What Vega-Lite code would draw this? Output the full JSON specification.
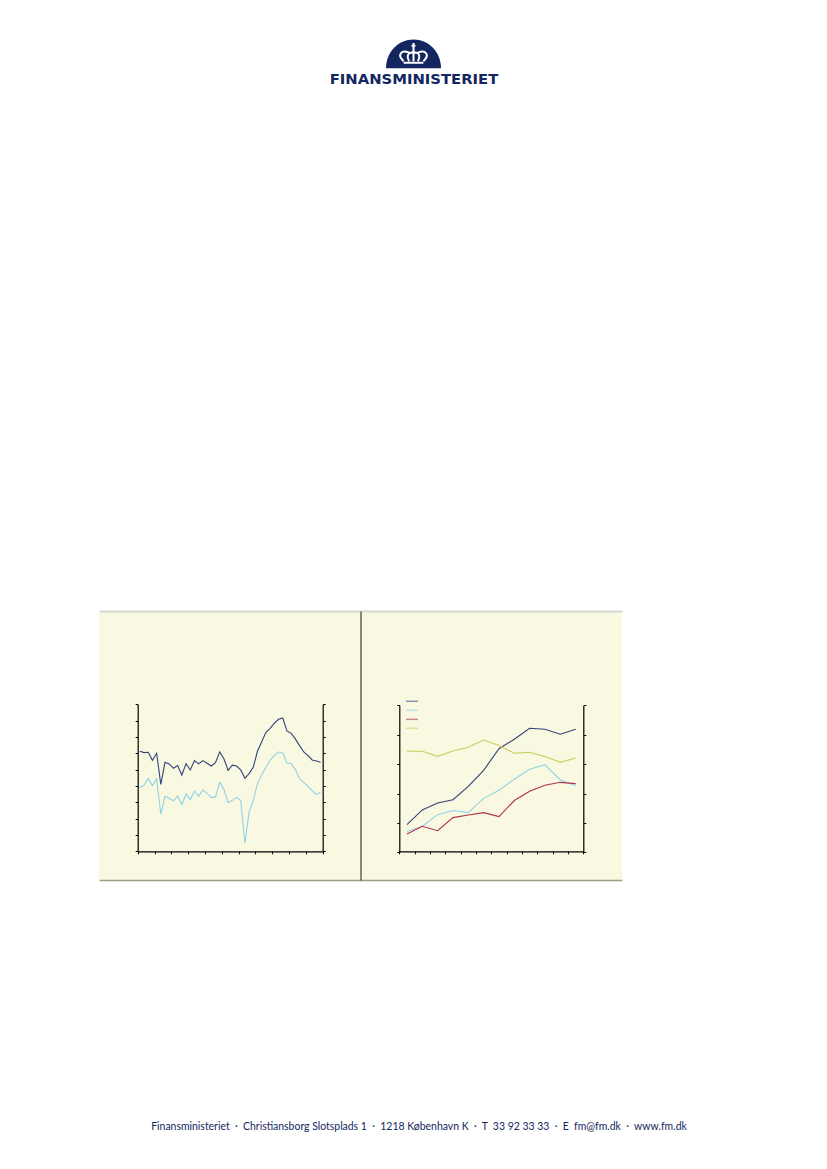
{
  "$schema": "https://vega.github.io/schema/vega-lite/v6.json",
  "width": 827,
  "height": 1169,
  "autosize": {"type": "fit", "contains": "padding"},
  "padding": 0,
  "background": "#ffffff",
  "config": {
    "view": {"stroke": null},
    "axis": {"labels": false, "grid": false, "title": null, "tickSize": 2.5, "tickColor": "#000000", "domainColor": "#000000", "tickWidth": 1, "domainWidth": 1.2}
  },
  "datasets": {
    "kvartal": [
      {"t": 2000.125, "a": 61.2, "b": 39.0}, {"t": 2000.375, "a": 60.4, "b": 40.4}, {"t": 2000.625, "a": 60.6, "b": 44.5}, {"t": 2000.875, "a": 55.7, "b": 40.2},
      {"t": 2001.125, "a": 60.0, "b": 44.3}, {"t": 2001.375, "a": 41.0, "b": 22.7}, {"t": 2001.625, "a": 54.5, "b": 33.7}, {"t": 2001.875, "a": 53.5, "b": 32.5},
      {"t": 2002.125, "a": 50.8, "b": 30.8}, {"t": 2002.375, "a": 52.5, "b": 33.9}, {"t": 2002.625, "a": 46.7, "b": 28.6}, {"t": 2002.875, "a": 53.7, "b": 35.1},
      {"t": 2003.125, "a": 49.8, "b": 31.6}, {"t": 2003.375, "a": 55.5, "b": 36.9}, {"t": 2003.625, "a": 53.5, "b": 33.7}, {"t": 2003.875, "a": 55.5, "b": 37.6},
      {"t": 2004.125, "a": 53.9, "b": 35.5}, {"t": 2004.375, "a": 52.2, "b": 32.9}, {"t": 2004.625, "a": 54.3, "b": 33.3}, {"t": 2004.875, "a": 60.8, "b": 42.2},
      {"t": 2005.125, "a": 56.7, "b": 38.0}, {"t": 2005.375, "a": 49.6, "b": 29.8}, {"t": 2005.625, "a": 52.7, "b": 31.2}, {"t": 2005.875, "a": 52.2, "b": 32.9},
      {"t": 2006.125, "a": 49.8, "b": 31.2}, {"t": 2006.375, "a": 44.7, "b": 4.9}, {"t": 2006.625, "a": 47.6, "b": 24.3}, {"t": 2006.875, "a": 51.6, "b": 31.4},
      {"t": 2007.125, "a": 61.4, "b": 41.6}, {"t": 2007.375, "a": 67.1, "b": 46.9}, {"t": 2007.625, "a": 72.9, "b": 51.4}, {"t": 2007.875, "a": 75.3, "b": 55.9},
      {"t": 2008.125, "a": 78.4, "b": 58.6}, {"t": 2008.375, "a": 80.8, "b": 60.8}, {"t": 2008.625, "a": 81.6, "b": 60.2}, {"t": 2008.875, "a": 73.7, "b": 54.1},
      {"t": 2009.125, "a": 72.2, "b": 53.7}, {"t": 2009.375, "a": 68.8, "b": 50.0}, {"t": 2009.625, "a": 64.7, "b": 44.3}, {"t": 2009.875, "a": 60.8, "b": 42.2},
      {"t": 2010.125, "a": 58.6, "b": 39.8}, {"t": 2010.375, "a": 55.9, "b": 37.1}, {"t": 2010.625, "a": 55.3, "b": 34.7}, {"t": 2010.875, "a": 54.5, "b": 36.3}
    ],
    "aar": [
      {"t": 1997.5, "serie": "Serie 1", "v": 18.8}, {"t": 1998.5, "serie": "Serie 1", "v": 28.8}, {"t": 1999.5, "serie": "Serie 1", "v": 33.6}, {"t": 2000.5, "serie": "Serie 1", "v": 35.8},
      {"t": 2001.5, "serie": "Serie 1", "v": 44.9}, {"t": 2002.5, "serie": "Serie 1", "v": 55.8}, {"t": 2003.5, "serie": "Serie 1", "v": 70.5}, {"t": 2004.5, "serie": "Serie 1", "v": 76.9},
      {"t": 2005.5, "serie": "Serie 1", "v": 84.4}, {"t": 2006.5, "serie": "Serie 1", "v": 83.7}, {"t": 2007.5, "serie": "Serie 1", "v": 80.3}, {"t": 2008.5, "serie": "Serie 1", "v": 83.7},
      {"t": 1997.5, "serie": "Serie 2", "v": 14.1}, {"t": 1998.5, "serie": "Serie 2", "v": 17.7}, {"t": 1999.5, "serie": "Serie 2", "v": 25.6}, {"t": 2000.5, "serie": "Serie 2", "v": 28.4},
      {"t": 2001.5, "serie": "Serie 2", "v": 27.0}, {"t": 2002.5, "serie": "Serie 2", "v": 36.7}, {"t": 2003.5, "serie": "Serie 2", "v": 42.2}, {"t": 2004.5, "serie": "Serie 2", "v": 49.7},
      {"t": 2005.5, "serie": "Serie 2", "v": 56.5}, {"t": 2006.5, "serie": "Serie 2", "v": 59.6}, {"t": 2007.5, "serie": "Serie 2", "v": 49.2}, {"t": 2008.5, "serie": "Serie 2", "v": 45.4},
      {"t": 1997.5, "serie": "Serie 3", "v": 12.5}, {"t": 1998.5, "serie": "Serie 3", "v": 17.7}, {"t": 1999.5, "serie": "Serie 3", "v": 14.7}, {"t": 2000.5, "serie": "Serie 3", "v": 23.6},
      {"t": 2001.5, "serie": "Serie 3", "v": 25.4}, {"t": 2002.5, "serie": "Serie 3", "v": 27.0}, {"t": 2003.5, "serie": "Serie 3", "v": 24.3}, {"t": 2004.5, "serie": "Serie 3", "v": 35.2},
      {"t": 2005.5, "serie": "Serie 3", "v": 41.5}, {"t": 2006.5, "serie": "Serie 3", "v": 45.6}, {"t": 2007.5, "serie": "Serie 3", "v": 47.6}, {"t": 2008.5, "serie": "Serie 3", "v": 46.7},
      {"t": 1997.5, "serie": "Serie 4", "v": 68.7}, {"t": 1998.5, "serie": "Serie 4", "v": 68.7}, {"t": 1999.5, "serie": "Serie 4", "v": 65.3}, {"t": 2000.5, "serie": "Serie 4", "v": 68.9},
      {"t": 2001.5, "serie": "Serie 4", "v": 71.4}, {"t": 2002.5, "serie": "Serie 4", "v": 76.4}, {"t": 2003.5, "serie": "Serie 4", "v": 72.6}, {"t": 2004.5, "serie": "Serie 4", "v": 67.4},
      {"t": 2005.5, "serie": "Serie 4", "v": 68.0}, {"t": 2006.5, "serie": "Serie 4", "v": 65.1}, {"t": 2007.5, "serie": "Serie 4", "v": 61.2}, {"t": 2008.5, "serie": "Serie 4", "v": 64.2}
    ]
  },
  "layer": [
    {
      "data": {"values": [{"panel": "venstre", "r": "a"}, {"panel": "hoejre", "r": "a"}]},
      "mark": {"type": "rect", "fill": "#f9f8e1"},
      "encoding": {
        "x": {
          "field": "panel",
          "type": "nominal",
          "sort": ["venstre", "hoejre"],
          "scale": {"range": [99, 622], "paddingInner": 0, "paddingOuter": 0},
          "axis": {"zindex": 1, "orient": "top", "offset": -611, "ticks": false, "domainColor": "#d8d8d0", "domainWidth": 2}
        },
        "y": {
          "field": "r",
          "type": "nominal",
          "scale": {"range": [611, 880], "paddingInner": 0, "paddingOuter": 0},
          "axis": {"zindex": 1, "orient": "left", "offset": -360.5, "ticks": false, "domainColor": "#4a4a44", "domainWidth": 1.3}
        }
      }
    },
    {
      "data": {"values": [{"panel": "venstre"}, {"panel": "hoejre"}]},
      "mark": {"type": "rule", "opacity": 0},
      "encoding": {
        "x": {
          "field": "panel",
          "type": "nominal",
          "scale": {"range": [99, 622]},
          "axis": {"zindex": 1, "orient": "bottom", "offset": -289, "ticks": false, "domainColor": "#a09e88", "domainWidth": 1.5}
        }
      }
    },
    {
      "data": {"name": "kvartal"},
      "encoding": {
        "x": {
          "field": "t",
          "type": "quantitative",
          "scale": {"domain": [2000, 2011], "range": [137.7, 322.7], "nice": false, "zero": false},
          "axis": {"zindex": 1, "orient": "bottom", "offset": -317.7, "values": [2000, 2001, 2002, 2003, 2004, 2005, 2006, 2007, 2008, 2009, 2010, 2011]}
        }
      },
      "layer": [
        {
          "mark": {"type": "line", "stroke": "#8fd3e6", "strokeWidth": 1.1},
          "encoding": {
            "y": {
              "field": "b",
              "type": "quantitative",
              "scale": {"domain": [0, 90], "range": [851.3, 704.3], "nice": false},
              "axis": {"zindex": 1, "orient": "left", "offset": -137.7, "values": [0, 10, 20, 30, 40, 50, 60, 70, 80, 90]}
            }
          }
        },
        {
          "mark": {"type": "line", "stroke": "#33437c", "strokeWidth": 1.1},
          "encoding": {
            "y": {
              "field": "a",
              "type": "quantitative",
              "scale": {"domain": [0, 90], "range": [851.3, 704.3], "nice": false},
              "axis": {"zindex": 1, "orient": "left", "offset": -137.7, "values": [0, 10, 20, 30, 40, 50, 60, 70, 80, 90]}
            }
          }
        }
      ]
    },
    {
      "data": {"values": [{"s": 0}, {"s": 90}]},
      "mark": {"type": "rule", "opacity": 0},
      "encoding": {
        "y": {
          "field": "s",
          "type": "quantitative",
          "scale": {"domain": [0, 90], "range": [851.3, 704.3], "nice": false},
          "axis": {"zindex": 1, "orient": "right", "offset": -504.3, "values": [0, 10, 20, 30, 40, 50, 60, 70, 80, 90]}
        }
      }
    },
    {
      "data": {"name": "aar"},
      "mark": {"type": "line", "strokeWidth": 1.1},
      "encoding": {
        "x": {
          "field": "t",
          "type": "quantitative",
          "scale": {"domain": [1997, 2009], "range": [399.3, 583.3], "nice": false, "zero": false},
          "axis": {"zindex": 1, "orient": "bottom", "offset": -317.7, "values": [1997, 1998, 1999, 2000, 2001, 2002, 2003, 2004, 2005, 2006, 2007, 2008, 2009]}
        },
        "y": {
          "field": "v",
          "type": "quantitative",
          "scale": {"domain": [0, 100], "range": [852.3, 705.3], "nice": false},
          "axis": {"zindex": 1, "orient": "left", "offset": -399.3, "values": [0, 20, 40, 60, 80, 100]}
        },
        "color": {
          "field": "serie",
          "type": "nominal",
          "scale": {"domain": ["Serie 1", "Serie 2", "Serie 3", "Serie 4"], "range": ["#33437c", "#8fd3e6", "#b0304f", "#c9cf5e"]},
          "legend": {"orient": "none", "legendX": 405, "legendY": 697, "title": null, "symbolType": "stroke", "symbolSize": 144, "symbolStrokeWidth": 1.5, "symbolOpacity": 0.55, "labelExpr": "''", "labelFontSize": 1, "rowPadding": 0, "clipHeight": 8.6, "padding": 0}
        }
      }
    },
    {
      "data": {"values": [{"s": 0}, {"s": 100}]},
      "mark": {"type": "rule", "opacity": 0},
      "encoding": {
        "y": {
          "field": "s",
          "type": "quantitative",
          "scale": {"domain": [0, 100], "range": [852.3, 705.3], "nice": false},
          "axis": {"zindex": 1, "orient": "right", "offset": -243.7, "values": [0, 20, 40, 60, 80, 100]}
        }
      }
    },
    {
      "data": {"values": [{"del": "kuppel"}]},
      "layer": [
        {"mark": {"type": "point", "filled": true, "fill": "#14265f", "opacity": 1, "size": 3025, "shape": "M-1,0C-1,-0.6 -0.55,-1.05 0,-1.05C0.55,-1.05 1,-0.6 1,0Z"}},
        {"mark": {"type": "point", "filled": false, "stroke": "#ffffff", "strokeWidth": 2, "opacity": 1, "size": 3025, "shape": "M-0.36,-0.2L0.36,-0.2M-0.36,-0.26C-0.62,-0.5 -0.42,-0.68 -0.18,-0.58C-0.1,-0.55 -0.05,-0.55 0,-0.6C0.05,-0.55 0.1,-0.55 0.18,-0.58C0.42,-0.68 0.62,-0.5 0.36,-0.26M-0.16,-0.26C-0.26,-0.42 -0.2,-0.54 -0.12,-0.56M0.16,-0.26C0.26,-0.42 0.2,-0.54 0.12,-0.56M0,-0.26L0,-0.92M-0.07,-0.82L0.07,-0.82"}}
      ],
      "encoding": {
        "x": {"field": "del", "type": "nominal", "scale": {"type": "point", "range": [413.5, 413.5]}, "axis": null},
        "y": {"field": "del", "type": "nominal", "scale": {"type": "point", "range": [68.3, 68.3]}, "axis": null}
      }
    },
    {
      "data": {"values": [{"del": "navn", "tekst": "FINANSMINISTERIET"}]},
      "mark": {"type": "text", "font": "DejaVu Sans", "fontSize": 14.8, "fontWeight": "bold", "fill": "#14265f", "align": "center", "baseline": "middle"},
      "encoding": {
        "x": {"field": "del", "type": "nominal", "scale": {"type": "point", "range": [414, 414]}, "axis": null},
        "y": {"field": "del", "type": "nominal", "scale": {"type": "point", "range": [80, 80]}, "axis": null},
        "text": {"field": "tekst"}
      }
    },
    {
      "data": {"values": [{"del": "fod", "tekst": "Finansministeriet \u00a0·\u00a0 Christiansborg Slotsplads 1 \u00a0·\u00a0 1218 København K \u00a0·\u00a0 T \u00a033 92 33 33 \u00a0·\u00a0 E \u00a0fm@fm.dk \u00a0·\u00a0 www.fm.dk"}]},
      "mark": {"type": "text", "font": "Lato", "fontSize": 10.45, "fill": "#14265f", "align": "center", "baseline": "middle"},
      "encoding": {
        "x": {"field": "del", "type": "nominal", "scale": {"type": "point", "range": [419, 419]}, "axis": null},
        "y": {"field": "del", "type": "nominal", "scale": {"type": "point", "range": [1126.5, 1126.5]}, "axis": null},
        "text": {"field": "tekst"}
      }
    }
  ],
  "resolve": {
    "scale": {"x": "independent", "y": "independent", "color": "independent"},
    "axis": {"x": "independent", "y": "independent"},
    "legend": {"color": "independent"}
  }
}
